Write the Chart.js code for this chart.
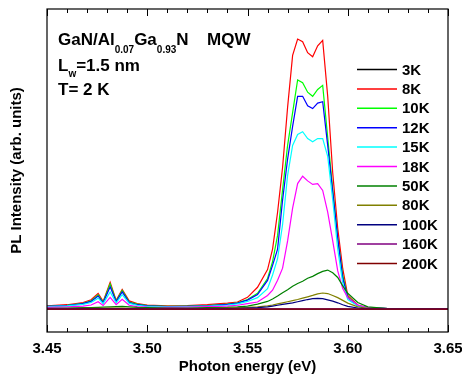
<!DOCTYPE html>
<html>
<head>
<meta charset="utf-8">
<script src="https://cdn.jsdelivr.net/npm/chart.js@4.4.1/dist/chart.umd.min.js"></script>
<style>
  html, body { margin: 0; padding: 0; background: #fff; }
  canvas { display: block; }
</style>
</head>
<body>
<canvas id="plChart" width="462" height="378"></canvas>
<script>
/* PL spectra, GaN/AlGaN MQW, temperature series */
const FONT = '"Liberation Sans", Arial, sans-serif';

// photon energy grid (eV)
const energy = [3.45, 3.46, 3.468, 3.472, 3.4755, 3.478, 3.4815, 3.4845, 3.4875, 3.491,
  3.495, 3.50, 3.51, 3.52, 3.53, 3.54, 3.545, 3.55, 3.555, 3.56,
  3.5625, 3.565, 3.5675, 3.57, 3.5725, 3.575, 3.5775, 3.58, 3.5825, 3.585,
  3.5875, 3.59, 3.5925, 3.595, 3.5975, 3.60, 3.605, 3.61, 3.62, 3.65];

const temps = ['3K', '8K', '10K', '12K', '15K', '18K', '50K', '80K', '100K', '160K', '200K'];
const colors = ['#000000', '#ff0000', '#00ff00', '#0000ff', '#00ffff', '#ff00ff',
  '#008000', '#808000', '#000080', '#800080', '#800000'];

const pl3K = [0, 0, 0, 0, 0, 0, 0, 0, 0, 0, 0, 0, 0, 0, 0, 0, 0, 0, 0, 0,
  0, 0, 0, 0, 0, 0, 0, 0, 0, 0, 0, 0, 0, 0, 0, 0, 0, 0, 0, 0];
const pl8K = [1.2, 1.6, 2.4, 3.4, 5.7, 2.8, 9.8, 3.2, 7.2, 3.0,
  2.0, 1.5, 1.2, 1.3, 1.6, 2.2, 2.6, 4.3, 8.0, 14.5,
  22, 35.5, 52, 74, 93, 99, 98, 94, 92.5, 96.5,
  98.5, 78, 50, 29.6, 14.8, 5, 1.5, 0.5, 0.2, 0.1];
const pl10K = [1.0, 1.4, 2.1, 3.0, 5.2, 2.5, 9.2, 2.9, 6.8, 2.6,
  1.8, 1.3, 1.0, 1.1, 1.3, 1.8, 2.3, 3.5, 5.8, 11.2,
  17.4, 27, 43.8, 60, 72, 84, 83, 79.5, 78, 80.5,
  82, 63, 44, 26, 12.4, 4.5, 1.3, 0.5, 0.2, 0.1];
const pl12K = [1.0, 1.3, 2.0, 2.8, 4.8, 2.3, 8.2, 2.7, 6.3, 2.4,
  1.6, 1.2, 0.9, 1.0, 1.2, 1.7, 2.2, 3.3, 5.3, 10.5,
  16, 22, 40, 55, 67, 78, 78, 74.5, 73.5, 75.5,
  76, 60, 43, 26, 11.3, 4.2, 1.2, 0.5, 0.2, 0.1];
const pl15K = [0.9, 1.2, 1.7, 2.4, 4.0, 2.0, 6.3, 2.3, 5.3, 2.1,
  1.4, 1.0, 0.8, 0.9, 1.1, 1.5, 1.9, 2.8, 4.2, 7.5,
  12.5, 18.5, 31, 49, 60, 64, 65, 62.5, 61.3, 62.5,
  62.5, 56, 40, 22, 9.5, 3.5, 1.2, 0.5, 0.2, 0.1];
const pl18K = [0.6, 0.8, 1.1, 1.5, 2.7, 1.3, 4.3, 1.6, 3.6, 1.4,
  0.9, 0.7, 0.6, 0.7, 0.9, 1.1, 1.4, 2.0, 2.6, 5.0,
  6.9, 10.6, 15, 25, 37, 46, 48.7, 47, 45.7, 46,
  43.5, 35.5, 25, 14, 7.5, 4.2, 1.5, 0.5, 0.2, 0.1];
const pl50K = [0.3, 0.4, 0.5, 0.5, 0.6, 0.7, 0.8, 0.9, 1.0, 0.8,
  0.6, 0.5, 0.4, 0.4, 0.5, 0.6, 0.8, 1.1, 1.8, 2.8,
  3.7, 4.8, 6.0, 7.1, 8.4, 9.4, 10.2, 11.3, 12.0, 13.0,
  13.8, 14.3, 13.3, 11.6, 8.5, 5.8, 2.4, 0.8, 0.2, 0.1];
const pl80K = [0.2, 0.2, 0.3, 0.3, 0.3, 0.3, 0.4, 0.4, 0.4, 0.3,
  0.3, 0.2, 0.2, 0.2, 0.2, 0.4, 0.5, 0.6, 0.8, 1.2,
  1.5, 1.9, 2.3, 2.7, 3.1, 3.5, 4.0, 4.5, 5.0, 5.6,
  5.9, 5.7, 5.0, 4.2, 3.2, 2.2, 0.8, 0.3, 0.1, 0.1];
const pl100K = [0.1, 0.1, 0.2, 0.2, 0.2, 0.2, 0.2, 0.2, 0.2, 0.2,
  0.2, 0.1, 0.1, 0.1, 0.1, 0.2, 0.3, 0.4, 0.5, 0.8,
  1.1, 1.4, 1.7, 2.0, 2.3, 2.7, 3.1, 3.5, 3.8, 3.9,
  3.8, 3.4, 2.9, 2.3, 1.6, 1.0, 0.4, 0.1, 0.1, 0.1];
const pl160K = [0, 0, 0, 0, 0, 0, 0, 0, 0, 0, 0, 0, 0, 0, 0, 0, 0, 0.1, 0.1, 0.1,
  0.1, 0.1, 0.1, 0.1, 0.1, 0.1, 0.1, 0.1, 0.1, 0.1, 0.1, 0.1, 0.1, 0.1, 0.1, 0, 0, 0, 0, 0];
const pl200K = [0, 0, 0, 0, 0, 0, 0, 0, 0, 0, 0, 0, 0, 0, 0, 0, 0, 0, 0, 0,
  0, 0, 0, 0, 0, 0, 0, 0, 0, 0, 0, 0, 0, 0, 0, 0, 0, 0, 0, 0];

const series = [pl3K, pl8K, pl10K, pl12K, pl15K, pl18K, pl50K, pl80K, pl100K, pl160K, pl200K];
const xTicks = [3.45, 3.50, 3.55, 3.60, 3.65];

// inward ticks, box, text labels, legend
const decorations = {
  id: 'decorations',
  afterDraw(chart) {
    const { ctx, chartArea: a, scales: { x } } = chart;
    ctx.save();
    ctx.strokeStyle = '#000';
    ctx.lineWidth = 1.2;
    ctx.strokeRect(a.left, a.top, a.right - a.left, a.bottom - a.top);

    ctx.beginPath();
    for (let k = 0; k <= 20; k++) {
      const px = Math.round(x.getPixelForValue(3.45 + k * 0.01)) + 0.5;
      const len = k % 5 === 0 ? 7 : 4;
      ctx.moveTo(px, a.bottom); ctx.lineTo(px, a.bottom - len);
      ctx.moveTo(px, a.top); ctx.lineTo(px, a.top + len);
    }
    ctx.lineWidth = 1;
    ctx.stroke();

    // sample label
    ctx.fillStyle = '#000';
    ctx.textBaseline = 'alphabetic';
    const big = 'bold 17px ' + FONT, small = 'bold 10px ' + FONT;
    function runText(parts, x0, y0, drop) {
      let cx = x0;
      parts.forEach(([t, sub]) => {
        ctx.font = sub ? small : big;
        ctx.fillText(t, cx, sub ? y0 + drop : y0);
        cx += ctx.measureText(t).width;
      });
    }
    runText([['GaN/Al', 0], ['0.07', 1], ['Ga', 0], ['0.93', 1], ['N', 0]], 58, 45, 8);
    ctx.font = big;
    ctx.fillText('MQW', 207, 45);
    runText([['L', 0], ['w', 1], ['=1.5 nm', 0]], 58, 71, 6);
    ctx.font = big;
    ctx.fillText('T= 2 K', 58, 95);

    // legend
    ctx.font = 'bold 15px ' + FONT;
    ctx.textBaseline = 'middle';
    chart.data.datasets.forEach((ds, i) => {
      const y = 69.5 + i * 19.4;
      ctx.beginPath();
      ctx.strokeStyle = ds.borderColor;
      ctx.lineWidth = 1.5;
      ctx.moveTo(357, y); ctx.lineTo(397, y);
      ctx.stroke();
      ctx.fillText(ds.label, 402, y + 1);
    });
    ctx.restore();
  }
};

const axisFont = { family: FONT, size: 15, weight: 'bold' };

new Chart(document.getElementById('plChart').getContext('2d'), {
  type: 'line',
  data: {
    datasets: temps.map((t, i) => ({
      label: t,
      data: energy.map((e, j) => ({ x: e, y: series[i][j] })),
      borderColor: colors[i],
      borderWidth: 1.2,
      pointRadius: 0,
      fill: false,
      tension: 0,
      order: temps.length - i
    }))
  },
  options: {
    responsive: false,
    animation: false,
    devicePixelRatio: 1,
    layout: { padding: { top: 9, right: 14, left: 0, bottom: 0 } },
    plugins: { legend: { display: false }, tooltip: { enabled: false } },
    scales: {
      x: {
        type: 'linear', min: 3.45, max: 3.65,
        afterBuildTicks: s => { s.ticks = xTicks.map(v => ({ value: v })); },
        afterFit: s => { s.height = 46; s.paddingLeft = 0; s.paddingRight = 0; },
        grid: { display: false, drawTicks: false },
        border: { display: false },
        ticks: { font: axisFont, color: '#000', padding: 8, maxRotation: 0, autoSkip: false,
          callback: v => v.toFixed(2) },
        title: { display: true, text: 'Photon energy (eV)', font: axisFont, color: '#000',
          padding: { top: 0, bottom: 2 } }
      },
      y: {
        min: -8.4, max: 110,
        afterFit: s => { s.width = 47; s.paddingTop = 0; s.paddingBottom = 0; },
        grid: { display: false, drawTicks: false },
        border: { display: false },
        ticks: { display: false },
        title: { display: true, text: 'PL Intensity (arb. units)', font: axisFont, color: '#000',
          padding: { top: 8, bottom: 0 } }
      }
    }
  },
  plugins: [decorations]
});
</script>
</body>
</html>
